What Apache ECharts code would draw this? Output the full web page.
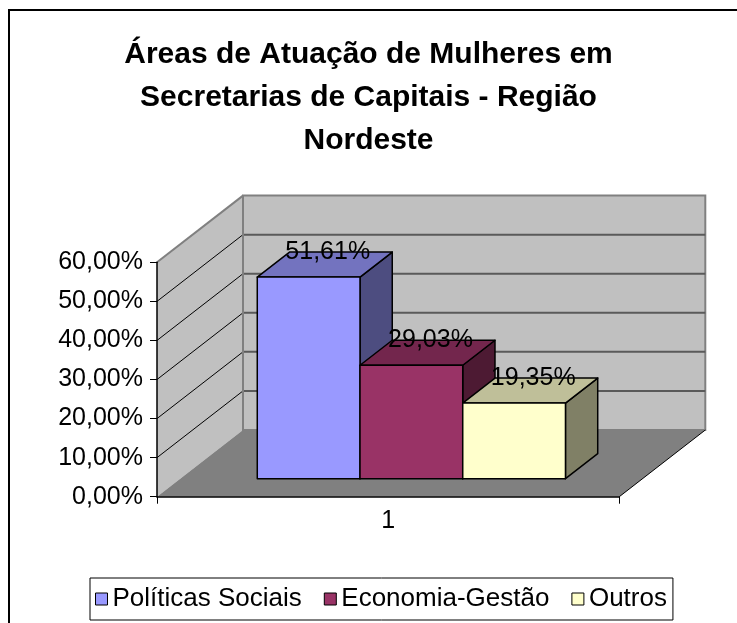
<!DOCTYPE html>
<html>
<head>
<meta charset="utf-8">
<script src="https://cdn.jsdelivr.net/npm/echarts@6/dist/echarts.min.js"></script>
<style>
html,body{margin:0;padding:0;background:#fff;}
#main{width:737px;height:623px;}
</style>
</head>
<body>
<div id="main"></div>
<script>
// ---- data ----
const categories = ['1'];
const seriesNames = ['Políticas Sociais', 'Economia-Gestão', 'Outros'];
const politicasSociais = [0.5161];
const economiaGestao = [0.2903];
const outros = [0.1935];
const titleText = 'Áreas de Atuação de Mulheres em\nSecretarias de Capitais - Região\nNordeste';
const yMin = 0, yMax = 0.6, yStep = 0.1;

// ---- style ----
const FONT = 'Liberation Sans, Arial, sans-serif';
const DX = 86, DY = -66.7;      // 3D depth offset (pixels)
const Z0 = 0.27, Z1 = 0.645;    // bar depth placement
const palette = [
  {front: '#9999ff', top: '#7373bf', side: '#4d4d80'},
  {front: '#993366', top: '#73264d', side: '#4d1a33'},
  {front: '#ffffcc', top: '#bfbf99', side: '#808066'}
];
const fmtPct = v => (v * 100).toFixed(2).replace('.', ',') + '%';

const chart = echarts.init(document.getElementById('main'), null, {renderer: 'canvas'});

function wallsRender(params, api) {
  const c = api.coord([0, yMin]);
  const w = api.size([1, 0])[0];
  const L = c[0] - w / 2, R = c[0] + w / 2;
  const yB = c[1];
  const yT = api.coord([0, yMax])[1];
  const children = [];
  children.push({type: 'polygon', shape: {points: [[L, yT], [L + DX, yT + DY], [L + DX, yB + DY], [L, yB]]},
    style: {fill: '#c0c0c0', stroke: null}});
  children.push({type: 'rect', shape: {x: L + DX, y: yT + DY, width: R - L, height: yB - yT},
    style: {fill: '#c0c0c0', stroke: '#808080', lineWidth: 2}});
  children.push({type: 'polygon', shape: {points: [[L, yB], [R, yB], [R + DX, yB + DY], [L + DX, yB + DY]]},
    style: {fill: '#808080', stroke: null}});
  children.push({type: 'line', shape: {x1: R, y1: yB, x2: R + DX, y2: yB + DY},
    style: {stroke: '#000', lineWidth: 1}});
  for (let v = yMin + yStep; v < yMax - 1e-9; v += yStep) {
    const y = api.coord([0, v])[1];
    children.push({type: 'line', shape: {x1: L, y1: y, x2: L + DX, y2: y + DY},
      style: {stroke: '#000', lineWidth: 1}});
    children.push({type: 'line', shape: {x1: L + DX, y1: y + DY, x2: R + DX, y2: y + DY},
      style: {stroke: '#5a5a5a', lineWidth: 2}});
  }
  children.push({type: 'line', shape: {x1: L, y1: yT, x2: L + DX, y2: yT + DY},
    style: {stroke: '#808080', lineWidth: 2}});
  children.push({type: 'line', shape: {x1: L + DX, y1: yT + DY, x2: L + DX, y2: yB + DY},
    style: {stroke: '#808080', lineWidth: 2}});
  return {type: 'group', children};
}

function barRender(idx) {
  return function (params, api) {
    const v = api.value(1);
    const c = api.coord([api.value(0), v]);
    const b = api.coord([api.value(0), 0]);
    const w = api.size([1, 0])[0];
    const left = c[0] - w / 2;
    const bw = w / 4.5;
    const xL = left + bw * (0.75 + idx), xR = xL + bw;
    const ax = DX * Z0, ay = DY * Z0, bx = DX * Z1, by = DY * Z1;
    const yT = c[1], yB = b[1];
    const col = palette[idx];
    const st = fill => ({fill, stroke: '#000', lineWidth: 1.5, lineJoin: 'round'});
    return {type: 'group', children: [
      {type: 'polygon', shape: {points: [[xR + ax, yT + ay], [xR + bx, yT + by], [xR + bx, yB + by], [xR + ax, yB + ay]]}, style: st(col.side)},
      {type: 'polygon', shape: {points: [[xL + ax, yT + ay], [xR + ax, yT + ay], [xR + bx, yT + by], [xL + bx, yT + by]]}, style: st(col.top)},
      {type: 'rect', shape: {x: xL + ax, y: yT + ay, width: bw, height: yB - yT}, style: st(col.front)},
      {type: 'text', x: (xL + xR) / 2 + (ax + bx) / 2 + 3, y: yT + (ay + by) / 2,
        style: {text: fmtPct(v), textAlign: 'center', textVerticalAlign: 'bottom', fontSize: 25, fontFamily: FONT, fill: '#000'}}
    ]};
  };
}

const seriesData = [politicasSociais, economiaGestao, outros];

const option = {
  animation: false,
  backgroundColor: '#fff',
  title: {
    text: titleText, left: 'center', top: 28,
    textStyle: {fontFamily: FONT, fontSize: 30, fontWeight: 'bold', color: '#000', lineHeight: 43}
  },
  legend: {
    data: seriesNames, left: 90, top: 578, orient: 'horizontal',
    icon: 'rect', itemWidth: 12, itemHeight: 12, itemGap: 22,
    borderColor: '#000', borderWidth: 1, padding: [8, 6, 8, 5], borderRadius: 0,
    itemStyle: {borderColor: '#000', borderWidth: 1},
    textStyle: {fontFamily: FONT, fontSize: 26, color: '#000'}
  },
  graphic: [{type: 'rect', shape: {x: 9, y: 10, width: 900, height: 800},
    style: {fill: null, stroke: '#000', lineWidth: 2}, z: 100}],
  grid: {left: 157, right: 117.7, top: 262.3, bottom: 126.3, containLabel: false},
  xAxis: {
    type: 'category', data: categories, z: 10,
    axisLine: {lineStyle: {color: '#000', width: 1.5}},
    axisTick: {show: true, length: 7, lineStyle: {color: '#000'}},
    axisLabel: {fontFamily: FONT, fontSize: 25, color: '#000', margin: 12},
    splitLine: {show: false}
  },
  yAxis: {
    type: 'value', min: yMin, max: yMax, interval: yStep, z: 10,
    axisLine: {show: true, lineStyle: {color: '#000', width: 1.5}},
    axisTick: {show: true, length: 7, lineStyle: {color: '#000'}},
    axisLabel: {fontFamily: FONT, fontSize: 25, color: '#000', margin: 14, formatter: fmtPct},
    splitLine: {show: false}
  },
  series: [
    {type: 'custom', name: '__walls', renderItem: wallsRender, data: [[0, 0]], z: 1, silent: true}
  ].concat(seriesNames.map((name, i) => ({
    type: 'custom', name: name, z: 2 + i,
    itemStyle: {color: palette[i].front, borderColor: '#000', borderWidth: 1},
    renderItem: barRender(i),
    encode: {x: 0, y: 1},
    data: seriesData[i].map((v, k) => [k, v])
  })))
};
chart.setOption(option);
</script>
</body>
</html>
